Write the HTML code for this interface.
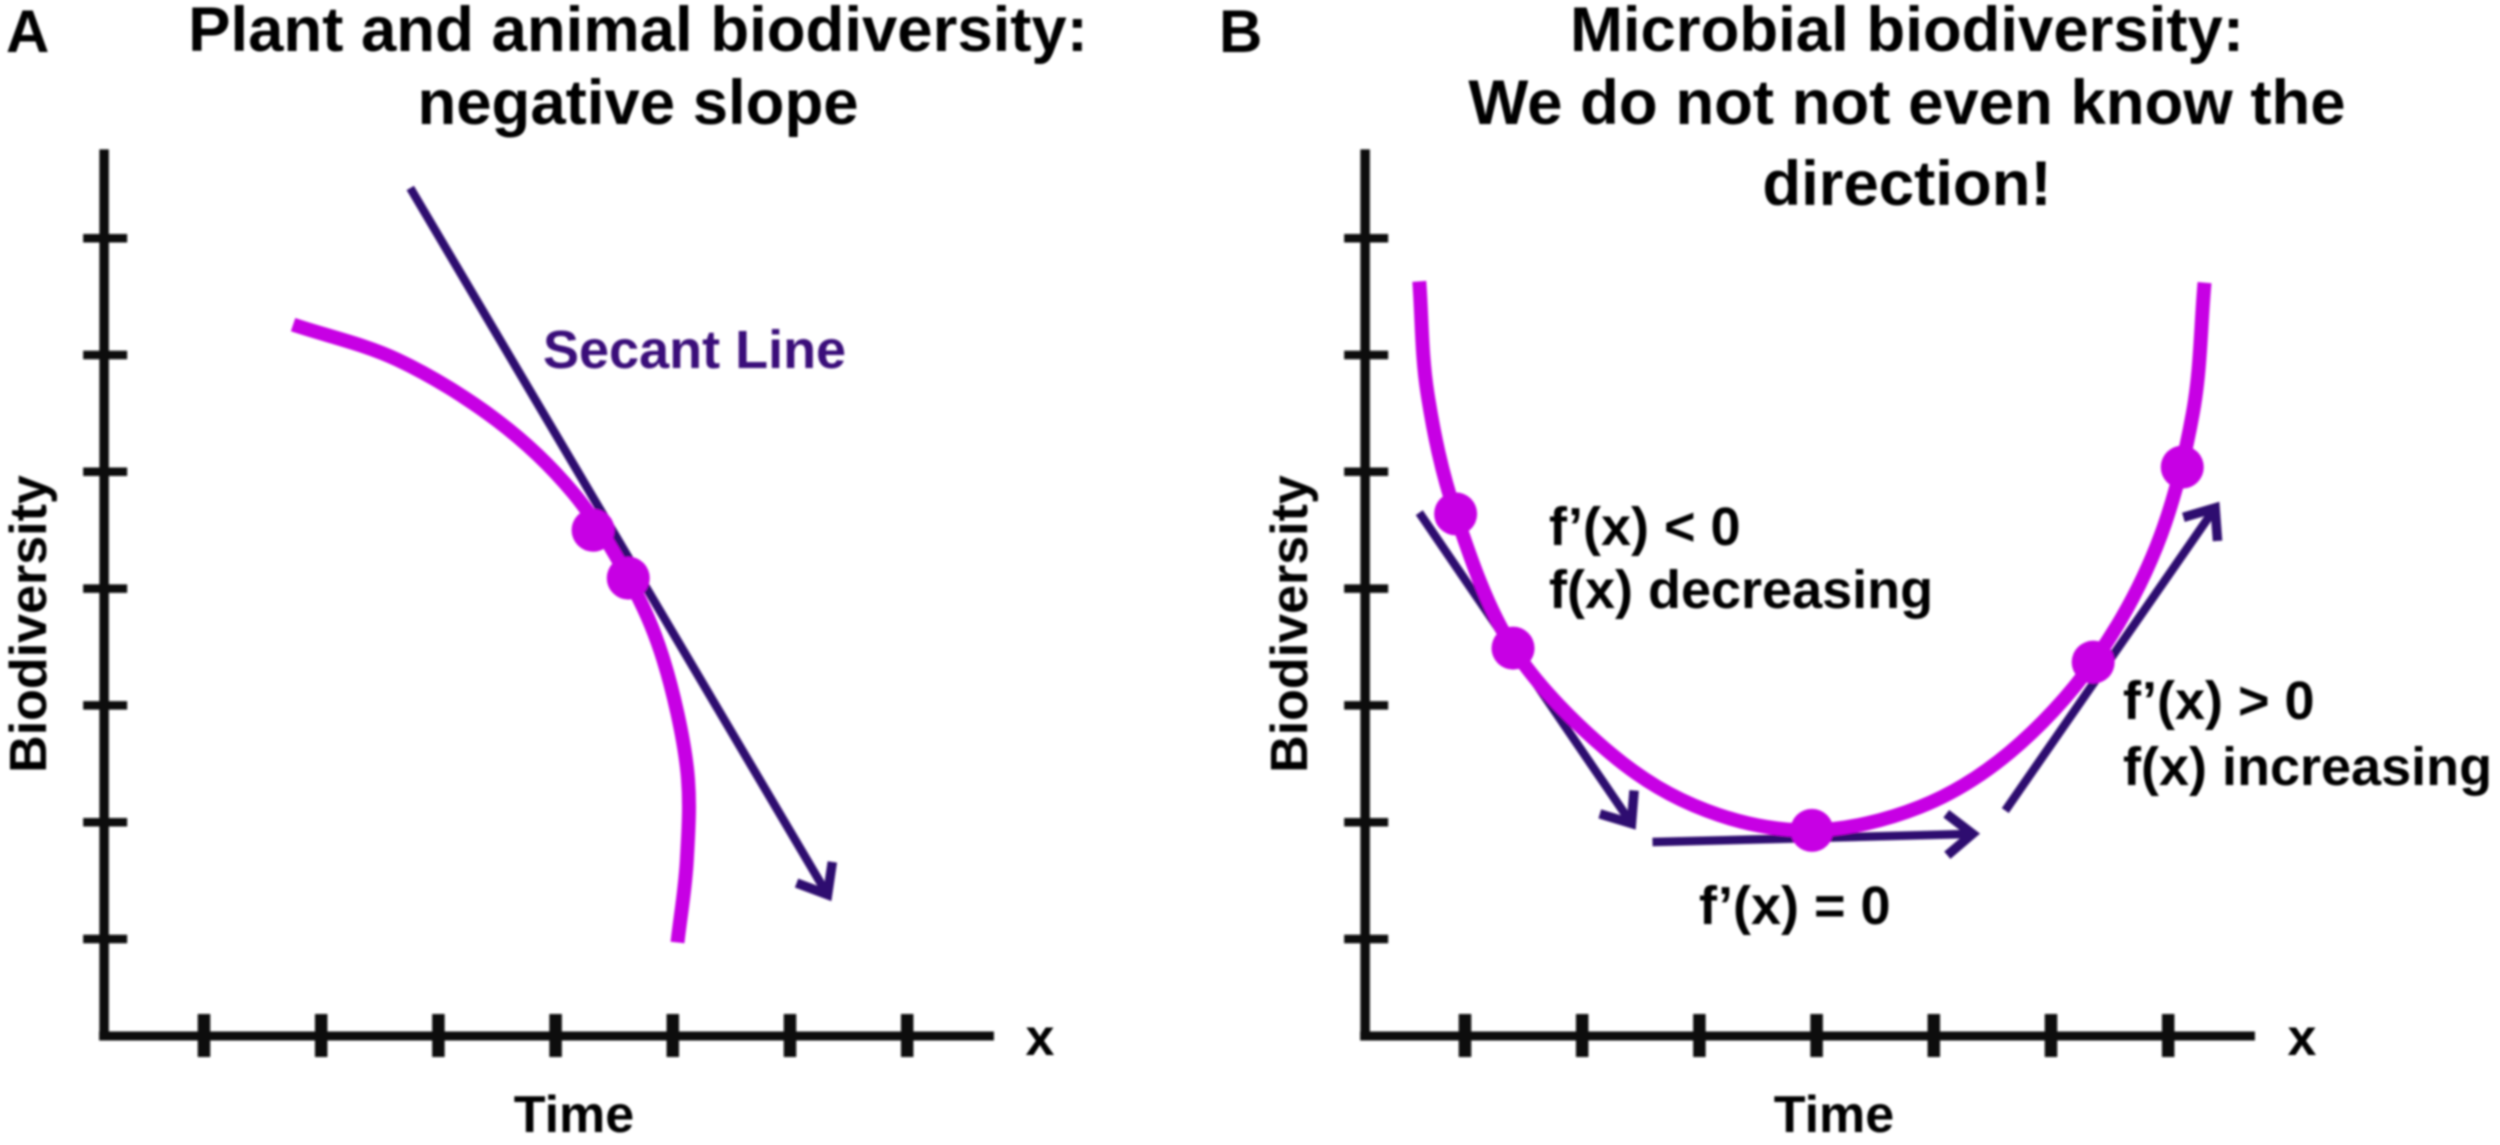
<!DOCTYPE html>
<html lang="en">
<head>
<meta charset="utf-8">
<title>Plant, animal and microbial biodiversity slopes</title>
<style>
html,body{margin:0;padding:0;background:#fff;}
svg{display:block;}
text{font-family:"Liberation Sans",Arial,sans-serif;font-weight:bold;fill:#060606;}
.ttl{font-size:63.5px;text-anchor:middle;}
.lab{font-size:52px;}
.ann{font-size:54px;fill:#060606;}
</style>
</head>
<body>
<svg id="fig" xmlns="http://www.w3.org/2000/svg" width="2500" height="1145" viewBox="0 0 2500 1145">
  <defs><filter id="soft" x="-2%" y="-2%" width="104%" height="104%"><feGaussianBlur stdDeviation="1.1"/></filter></defs>
  <g id="root" filter="url(#soft)">
    <text x="6" y="52" style="font-size:60px">A</text>
    <text x="1219" y="52" style="font-size:60px">B</text>
    <text class="ttl" x="638" y="51">Plant and animal biodiversity:</text>
    <text class="ttl" x="638" y="124">negative slope</text>
    <text class="ttl" x="1907" y="51">Microbial biodiversity:</text>
    <text class="ttl" x="1907" y="124">We do not not even know the</text>
    <text class="ttl" x="1907" y="205">direction!</text>
    <text class="lab" transform="translate(46,624) rotate(-90)" text-anchor="middle">Biodiversity</text>
    <text class="lab" transform="translate(1307,624) rotate(-90)" text-anchor="middle">Biodiversity</text>
    <text class="lab" x="574" y="1132" text-anchor="middle">Time</text>
    <text class="lab" x="1834" y="1132" text-anchor="middle">Time</text>
    <text class="lab" x="1040" y="1055" text-anchor="middle">x</text>
    <text class="lab" x="2302" y="1055" text-anchor="middle">x</text>
    <text class="ann" x="543" y="368" style="fill:#3a0c7a">Secant Line</text>
    <text class="ann" x="1549" y="545">f’(x) &lt; 0</text>
    <text class="ann" x="1549" y="608">f(x) decreasing</text>
    <text class="ann" x="2123" y="719">f’(x) &gt; 0</text>
    <text class="ann" x="2123" y="785">f(x) increasing</text>
    <text class="ann" x="1699" y="924">f’(x) = 0</text>
  </g>
</svg>
<script>
// Tick positions, in axis units
const xTicks = [1, 2, 3, 4, 5, 6, 7];
const yTicks = [1, 2, 3, 4, 5, 6, 7];

// Panel A values, in axis units
const curveAX = [1.76, 2.65, 3.50, 4.15, 4.62, 4.92, 5.12, 5.12, 5.04];
const curveAY = [6.26, 5.96, 5.44, 4.82, 4.09, 3.39, 2.47, 1.68, 0.97];
const pointsAX = [4.32, 4.62];
const pointsAY = [4.50, 4.09];
const secantAX = [2.76, 6.32];
const secantAY = [7.43, 1.38];

// Panel B values, in axis units
const curveBX = [0.61, 0.68, 0.92, 1.41, 2.24, 3.06, 3.96, 4.88, 5.65, 6.36, 6.90, 7.21, 7.31];
const curveBY = [6.63, 5.67, 4.64, 3.49, 2.59, 2.10, 1.93, 2.13, 2.60, 3.37, 4.36, 5.50, 6.62];
const pointsBX = [0.92, 1.41, 3.96, 6.36, 7.12];
const pointsBY = [4.64, 3.49, 1.93, 3.37, 5.04];
const tangentDownX = [0.61, 2.42];
const tangentDownY = [4.65, 1.99];
const tangentFlatX = [2.60, 5.33];
const tangentFlatY = [1.83, 1.90];
const tangentUpX = [5.61, 7.40];
const tangentUpY = [2.10, 4.69];

// Axis extents, in axis units
const xRange = [0.148, 7.74];
const yRange = [0.17, 7.76];

const MAGENTA = '#c704e4';
const PURPLE = '#2f0870';
const INK = '#0a0a0a';
const root = document.getElementById('root');

function makeX(tick1Px) { return v => tick1Px + (v - 1) * 117.2; }
function yScale(v) { return 939 - (v - 1) * 116.8; }

function svgEl(tag, attrs) {
  const el = document.createElementNS('http://www.w3.org/2000/svg', tag);
  for (const k in attrs) el.setAttribute(k, attrs[k]);
  root.appendChild(el);
  return el;
}

function smoothPath(px, py) {
  const n = px.length;
  const gx = i => i < 0 ? 2 * px[0] - px[1] : i >= n ? 2 * px[n - 1] - px[n - 2] : px[i];
  const gy = i => i < 0 ? 2 * py[0] - py[1] : i >= n ? 2 * py[n - 1] - py[n - 2] : py[i];
  let d = 'M' + px[0] + ' ' + py[0];
  for (let i = 0; i < n - 1; i++) {
    const c1x = gx(i) + (gx(i + 1) - gx(i - 1)) / 6, c1y = gy(i) + (gy(i + 1) - gy(i - 1)) / 6;
    const c2x = gx(i + 1) - (gx(i + 2) - gx(i)) / 6, c2y = gy(i + 1) - (gy(i + 2) - gy(i)) / 6;
    d += ' C' + c1x + ' ' + c1y + ' ' + c2x + ' ' + c2y + ' ' + px[i + 1] + ' ' + py[i + 1];
  }
  return d;
}

function drawAxes(x, prefix) {
  const xAxis = svgEl('line', {x1: x(xRange[0]) - 5, y1: yScale(yRange[0]), x2: x(xRange[1]), y2: yScale(yRange[0]), stroke: INK, 'stroke-width': 9});
  
  
  const yAxis = svgEl('line', {x1: x(xRange[0]), y1: yScale(yRange[0]) + 4, x2: x(xRange[0]), y2: yScale(yRange[1]), stroke: INK, 'stroke-width': 9.5});
  
  
  xTicks.forEach(t => {
    const tick = svgEl('line', {x1: x(t), y1: yScale(yRange[0]) - 22, x2: x(t), y2: yScale(yRange[0]) + 21, stroke: INK, 'stroke-width': 12.5});
    
    
  });
  yTicks.forEach(t => {
    const tick = svgEl('line', {x1: x(xRange[0]) - 21, y1: yScale(t), x2: x(xRange[0]) + 23, y2: yScale(t), stroke: INK, 'stroke-width': 8.5});
    
    
  });
}

function drawArrow(x, xs, ys, name) {
  const x1 = x(xs[0]), y1 = yScale(ys[0]), x2 = x(xs[1]), y2 = yScale(ys[1]);
  const line = svgEl('line', {x1: x1, y1: y1, x2: x2, y2: y2, stroke: PURPLE, 'stroke-width': 8.5});
  
  
  const ang = Math.atan2(y2 - y1, x2 - x1), len = 33, spread = 0.68;
  const pts = [
    [x2 - len * Math.cos(ang - spread), y2 - len * Math.sin(ang - spread)],
    [x2, y2],
    [x2 - len * Math.cos(ang + spread), y2 - len * Math.sin(ang + spread)]
  ].map(p => p.join(',')).join(' ');
  const head = svgEl('polyline', {points: pts, fill: 'none', stroke: PURPLE, 'stroke-width': 9.5});
  
  
}

function drawCurve(x, xs, ys, name) {
  const curve = svgEl('path', {d: smoothPath(xs.map(x), ys.map(yScale)), fill: 'none', stroke: MAGENTA, 'stroke-width': 14});
  
  
}

function drawPoints(x, xs, ys, name) {
  xs.forEach((v, i) => {
    const dot = svgEl('circle', {cx: x(v), cy: yScale(ys[i]), r: 21.5, fill: MAGENTA});
    
    
  });
}

const xA = makeX(204);
const xB = makeX(1465);

drawAxes(xA, 'panel-a');
drawArrow(xA, secantAX, secantAY, 'secant-line');
drawCurve(xA, curveAX, curveAY, 'panel-a-curve');
drawPoints(xA, pointsAX, pointsAY, 'panel-a-point');

drawAxes(xB, 'panel-b');
drawArrow(xB, tangentDownX, tangentDownY, 'tangent-decreasing');
drawArrow(xB, tangentFlatX, tangentFlatY, 'tangent-flat');
drawArrow(xB, tangentUpX, tangentUpY, 'tangent-increasing');
drawCurve(xB, curveBX, curveBY, 'panel-b-curve');
drawPoints(xB, pointsBX, pointsBY, 'panel-b-point');
</script>
</body>
</html>
